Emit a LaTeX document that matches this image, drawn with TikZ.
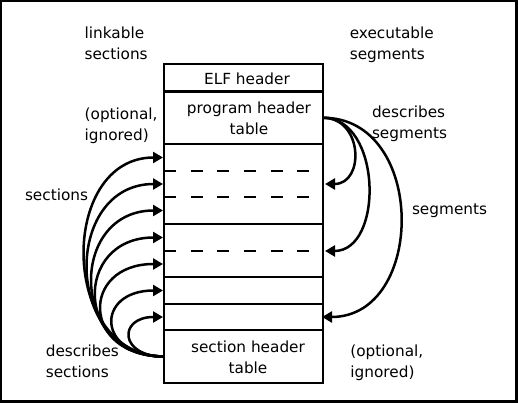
\documentclass[tikz,border=0pt]{standalone}
\usepackage{fontspec}
\setmainfont{DejaVu Sans}
\usetikzlibrary{arrows.meta}
\newcommand{\twol}[2]{\begin{tabular}[t]{@{}l@{}}#1\\#2\end{tabular}}
\newcommand{\twoc}[2]{\begin{tabular}[t]{@{}c@{}}#1\\#2\end{tabular}}
\begin{document}
\begin{tikzpicture}[x=1pt,y=-1pt,
  every node/.style={font=\fontsize{15.3}{21}\selectfont, inner sep=0pt, outer sep=0pt},
  part/.style={draw, line width=2.5pt, minimum width=159pt, anchor=north west},
  lbl/.style={anchor=base west},
  ctr/.style={anchor=base},
  dashline/.style={line width=2.5pt, dash pattern=on 12pt off 14.67pt},
  arr/.style={line width=2.5pt, -{Triangle[length=10pt,width=11pt]}}]
\useasboundingbox (0,0) rectangle (518,403);
\draw[line width=2.5pt] (1,1) rectangle (516.5,401.5);
% the file layout
\node[part, minimum height=27.5pt] (elf) at (164,64) {};
\node[part, minimum height=52.5pt] (pht) at (164,91.5) {};
\node[part, minimum height=80pt] (sa) at (164,144) {};
\node[part, minimum height=53pt] (sb) at (164,224) {};
\node[part, minimum height=27pt] (sc) at (164,277) {};
\node[part, minimum height=26pt] (sd) at (164,304) {};
\node[part, minimum height=53pt] (sht) at (164,330) {};
\draw[dashline] (164,171) -- (323,171);
\draw[dashline] (164,197) -- (323,197);
\draw[dashline] (164,251) -- (323,251);
% texts in the box
\node[ctr] (elft) at (247,85) {ELF header};
\node[ctr] (phtt) at (249,113.3) {\twoc{program header}{table}};
\node[ctr] (shtt) at (248,352.7) {\twoc{section header}{table}};
% side labels
\node[lbl] (lnk) at (84.6,38.3) {\twol{linkable}{sections}};
\node[lbl] (optl) at (84.7,119.3) {\twol{(optional,}{ignored)}};
\node[lbl] (secs) at (25,200.7) {sections};
\node[lbl] (dsec) at (45.8,356.7) {\twol{describes}{sections}};
\node[lbl] (exe) at (349.8,38.3) {\twol{executable}{segments}};
\node[lbl] (dseg) at (372,117.5) {\twol{describes}{segments}};
\node[lbl] (segs) at (412,214) {segments};
\node[lbl] (optr) at (350.4,356.7) {\twol{(optional,}{ignored)}};
% arrow targets
\coordinate (t1) at (163,157.5);
\coordinate (t2) at (163,184);
\coordinate (t3) at (163,210.5);
\coordinate (t4) at (163,237.5);
\coordinate (t5) at (163,264);
\coordinate (t6) at (163,290.5);
\coordinate (t7) at (163,317);
\coordinate (r1) at (325,184);
\coordinate (r2) at (325,251);
\coordinate (r3) at (322,317);
% section arrows
\draw[arr] (sht.west) .. controls +(-105,0) and +(-105,0) .. (t1);
\draw[arr] (sht.west) .. controls +(-101,0) and +(-101,0) .. (t2);
\draw[arr] (sht.west) .. controls +(-95,0) and +(-95,0) .. (t3);
\draw[arr] (sht.west) .. controls +(-90,0) and +(-90,0) .. (t4);
\draw[arr] (sht.west) .. controls +(-83,0) and +(-83,0) .. (t5);
\draw[arr] (sht.west) .. controls +(-68,0) and +(-68,0) .. (t6);
\draw[arr] (sht.west) .. controls +(-45,0) and +(-45,0) .. (t7);
% segment arrows
\draw[arr] (pht.east) .. controls +(40,0) and +(40,0) .. (r1);
\draw[arr] (pht.east) .. controls +(59,0) and +(59,0) .. (r2);
\draw[arr] (pht.east) .. controls +(104,0) and +(104,0) .. (r3);
\end{tikzpicture}
\end{document}
